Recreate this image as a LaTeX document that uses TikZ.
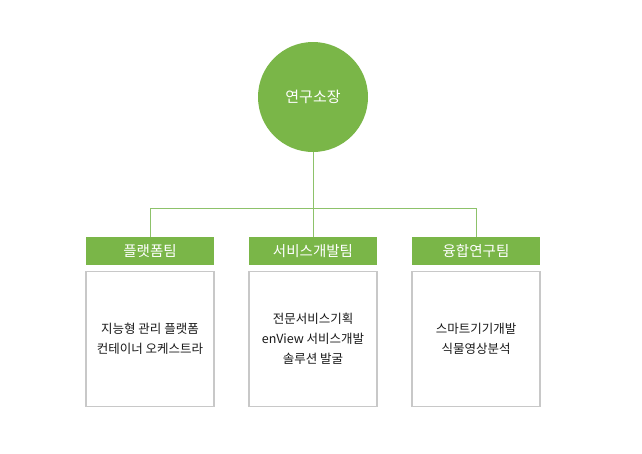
\documentclass[tikz,border=0pt]{standalone}
\usepackage{fontspec}
\setmainfont{Noto Sans CJK KR}
\definecolor{grn}{HTML}{7AB648}
\definecolor{gline}{HTML}{8DC26A}
\definecolor{bx}{HTML}{C8C8C8}
\begin{document}
\begin{tikzpicture}[x=1pt,y=-1pt,
  hdr/.style={fill=grn,text=white,minimum width=128pt,minimum height=28pt,inner sep=0pt,font=\fontsize{14.5}{16}\selectfont},
  body/.style={draw=bx,line width=1.5pt,minimum width=128pt,minimum height=135pt,align=center,text=black!90,font=\fontsize{12.5}{20}\selectfont},
  conn/.style={draw=gline,line width=1pt}]
\useasboundingbox (0,0) rectangle (642,453);
\node[circle,fill=grn,minimum size=110pt,text=white,font=\fontsize{15}{17}\selectfont] (top) at (313,97) {연구소장};
\node[hdr] (h1) at (150,251) {플랫폼팀};
\node[hdr] (h2) at (313,251) {서비스개발팀};
\node[hdr] (h3) at (476,251) {융합연구팀};
\node[body] (b1) at (150,339) {지능형 관리 플랫폼\\컨테이너 오케스트라};
\node[body] (b2) at (313,339) {전문서비스기획\\enView 서비스개발\\솔루션 발굴};
\node[body] (b3) at (476,339) {스마트기기개발\\식물영상분석};
\coordinate (m) at (313,208);
\draw[conn] (top.south) -- (h2.north);
\draw[conn] (h1.north) -- (h1.north |- m) -- (h3.north |- m) -- (h3.north);
\end{tikzpicture}
\end{document}
